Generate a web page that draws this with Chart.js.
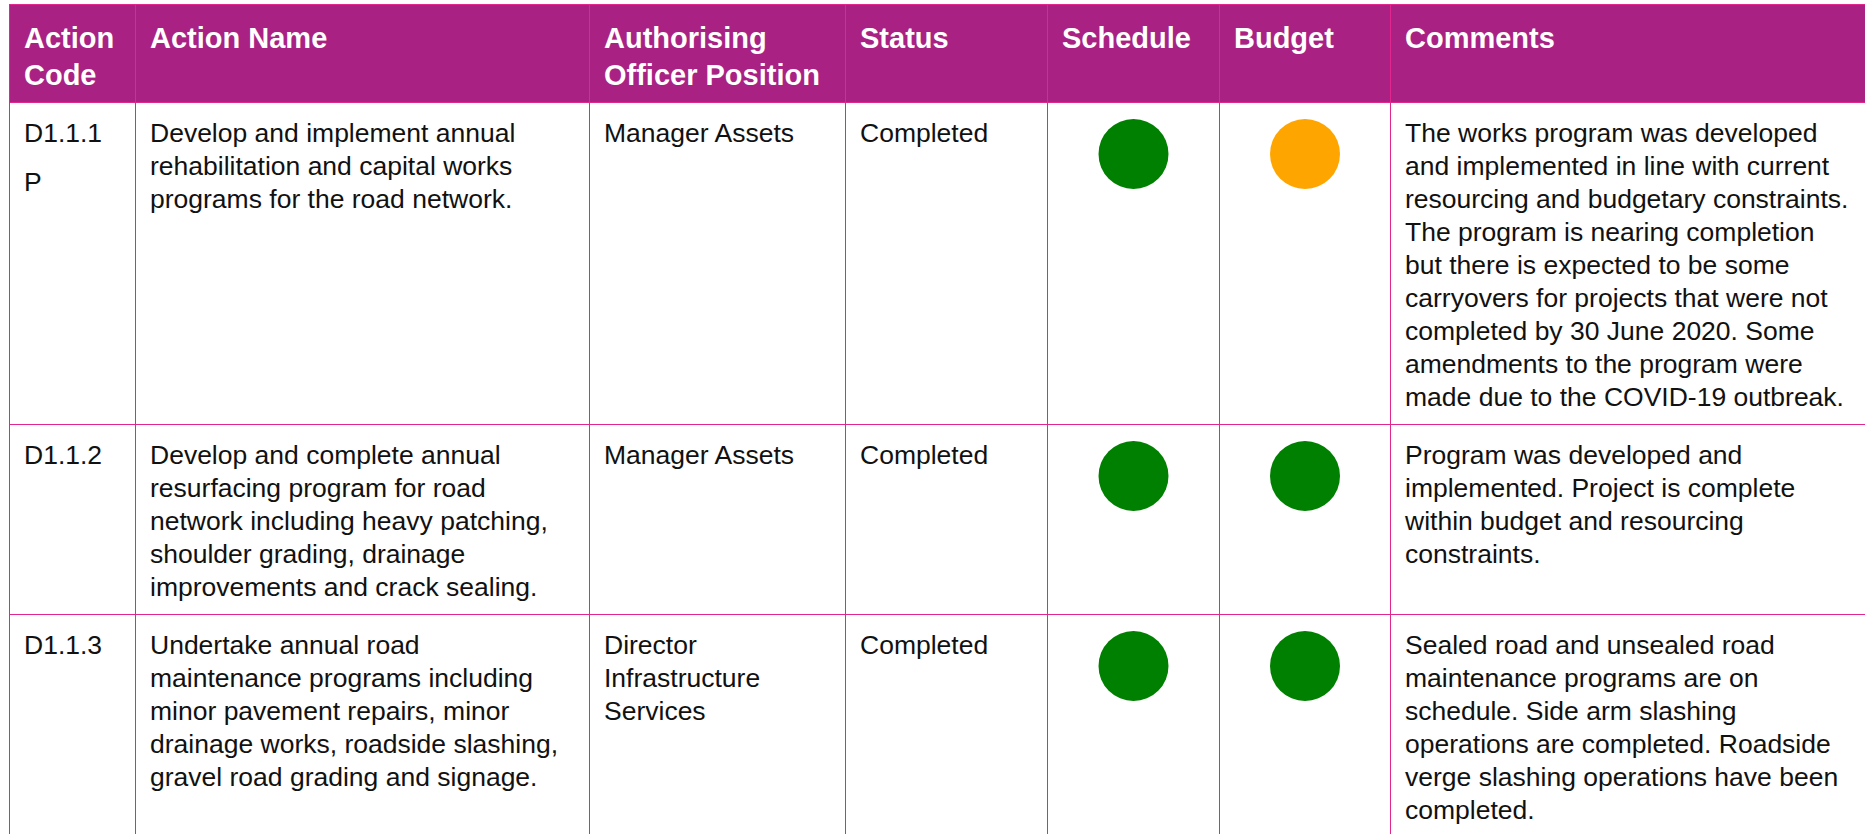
<!DOCTYPE html>
<html>
<head>
<meta charset="utf-8">
<script src="https://cdn.jsdelivr.net/npm/chart.js@4/dist/chart.umd.min.js"></script>
<style>
  html, body { margin: 0; padding: 0; background: #fff; overflow: hidden; width: 1865px; height: 834px; }
  table {
    position: absolute; left: 9px; top: 4px;
    border-collapse: collapse; table-layout: fixed; width: 1862px;
    font-family: "Liberation Sans", Arial, sans-serif; color: #111;
  }
  td, th { border: 1px solid #e2268f; vertical-align: top; text-align: left; }
  th {
    background: #a92283; color: #fff; font-weight: bold; font-size: 29px; line-height: 36.7px;
    padding: 15px 14px 0 14px; height: 82px;
  }
  td { font-size: 26.5px; line-height: 33px; padding: 14px 14px 0 14px; white-space: nowrap; }
  td.dot { padding: 0; }
  .dotbox { position: relative; height: 102px; }
  .para { margin-top: 16px; }
</style>
</head>
<body>
<table id="tbl">
  <colgroup>
    <col style="width:126px"><col style="width:454px"><col style="width:256px"><col style="width:202px">
    <col style="width:172px"><col style="width:171px"><col style="width:481px">
  </colgroup>
  <thead id="head"></thead>
  <tbody id="rows"></tbody>
</table>
<script>
const headers = ['Action<br>Code', 'Action Name', 'Authorising<br>Officer Position', 'Status', 'Schedule', 'Budget', 'Comments']
const codes = [['D1.1.1', 'P'], ['D1.1.2'], ['D1.1.3']]
const actionNames = [
  ['Develop and implement annual', 'rehabilitation and capital works', 'programs for the road network.'],
  ['Develop and complete annual', 'resurfacing program for road', 'network including heavy patching,', 'shoulder grading, drainage', 'improvements and crack sealing.'],
  ['Undertake annual road', 'maintenance programs including', 'minor pavement repairs, minor', 'drainage works, roadside slashing,', 'gravel road grading and signage.']
]
const officers = [['Manager Assets'], ['Manager Assets'], ['Director', 'Infrastructure', 'Services']]
const statuses = ['Completed', 'Completed', 'Completed']
const schedule = ['green', 'green', 'green']
const budget = ['amber', 'green', 'green']
const comments = [
  ['The works program was developed', 'and implemented in line with current', 'resourcing and budgetary constraints.', 'The program is nearing completion', 'but there is expected to be some', 'carryovers for projects that were not', 'completed by 30 June 2020. Some', 'amendments to the program were', 'made due to the COVID-19 outbreak.'],
  ['Program was developed and', 'implemented. Project is complete', 'within budget and resourcing', 'constraints.'],
  ['Sealed road and unsealed road', 'maintenance programs are on', 'schedule. Side arm slashing', 'operations are completed. Roadside', 'verge slashing operations have been', 'completed.']
]
const rowHeights = [307, 175, 230]

const ragColors = { green: '#008000', amber: '#ffa500', red: '#e00000' }

document.getElementById('head').innerHTML =
  '<tr>' + headers.map((h) => '<th>' + h + '</th>').join('') + '</tr>'

const body = document.getElementById('rows')
const dotCanvases = []

codes.forEach((code, i) => {
  const tr = document.createElement('tr')
  tr.innerHTML =
    '<td style="height:' + rowHeights[i] + 'px">' + code.map((c, k) => '<div class="' + (k ? 'para' : '') + '">' + c + '</div>').join('') + '</td>' +
    '<td>' + actionNames[i].join('<br>') + '</td>' +
    '<td>' + officers[i].join('<br>') + '</td>' +
    '<td>' + statuses[i] + '</td>' +
    '<td class="dot"><div class="dotbox"><canvas></canvas></div></td>' +
    '<td class="dot"><div class="dotbox"><canvas></canvas></div></td>' +
    '<td>' + comments[i].join('<br>') + '</td>'
  body.appendChild(tr)
  const canvases = tr.querySelectorAll('canvas')
  dotCanvases.push({ el: canvases[0], status: schedule[i] })
  dotCanvases.push({ el: canvases[1], status: budget[i] })
})

dotCanvases.forEach((item) => buildDot(item.el, item.status))

function buildDot (element, status) {
  return new Chart(element.getContext('2d'), {
    type: 'scatter',
    data: {
      datasets: [{
        data: [{ x: 0, y: 0 }],
        pointRadius: 35,
        pointHoverRadius: 35,
        borderWidth: 0,
        clip: false,
        backgroundColor: ragColors[status]
      }]
    },
    options: {
      responsive: true,
      maintainAspectRatio: false,
      animation: false,
      events: [],
      layout: { padding: 0, autoPadding: false },
      plugins: { legend: { display: false }, tooltip: { enabled: false } },
      scales: {
        x: { display: false, min: -1, max: 1 },
        y: { display: false, min: -1, max: 1 }
      }
    }
  })
}
</script>
</body>
</html>
